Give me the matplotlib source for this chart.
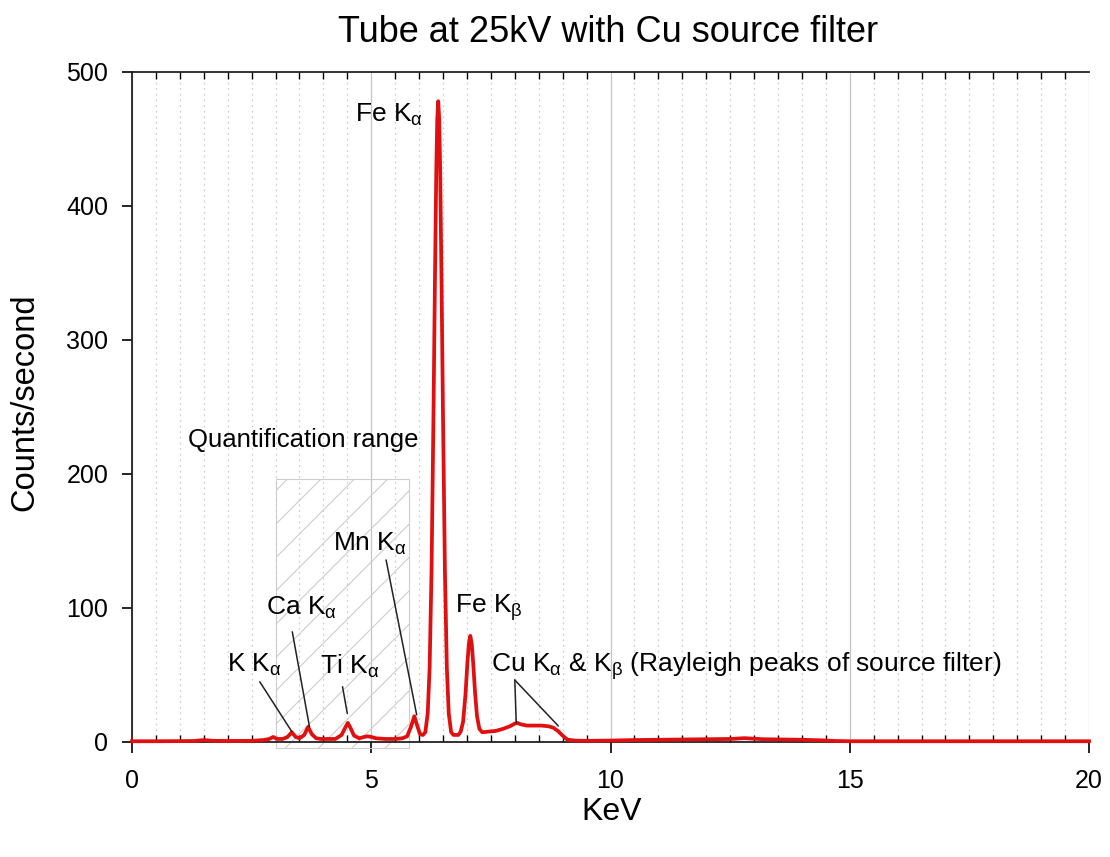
import matplotlib
matplotlib.use("Agg")
import matplotlib.pyplot as plt
from matplotlib.patches import Rectangle
from matplotlib.ticker import MultipleLocator

plt.rcParams['font.family'] = ['Liberation Sans', 'DejaVu Sans']
plt.rcParams['mathtext.fontset'] = 'custom'
plt.rcParams['mathtext.rm'] = 'Liberation Sans'
plt.rcParams['mathtext.it'] = 'Liberation Sans'
plt.rcParams['mathtext.default'] = 'regular'
plt.rcParams['hatch.linewidth'] = 0.8

# XRF spectrum: energy (keV) and count rate (counts/second)
energy_kev = [
    0.0, 0.5, 1.0, 1.3, 1.5, 1.7, 2.0, 2.5, 2.75,
    2.87, 2.95, 3.03, 3.15, 3.25, 3.34, 3.42, 3.5,
    3.6, 3.68, 3.76, 3.85, 3.95, 4.1, 4.25,
    4.38, 4.45, 4.51, 4.57, 4.64, 4.75, 4.85, 4.92, 5.0, 5.1, 5.3, 5.5, 5.65,
    5.75, 5.83, 5.9, 5.96, 6.02, 6.08,
    6.13, 6.18, 6.22, 6.26, 6.30, 6.33, 6.36, 6.38, 6.40,
    6.42, 6.44, 6.47, 6.50, 6.54, 6.58, 6.62, 6.67, 6.72, 6.77,
    6.82, 6.87, 6.92, 6.97, 7.01, 7.04, 7.07, 7.10, 7.13, 7.17, 7.21, 7.26, 7.32,
    7.45, 7.6, 7.75, 7.9, 8.0, 8.05, 8.12, 8.25, 8.4, 8.55, 8.7, 8.8, 8.9, 9.0, 9.1,
    9.25, 9.5, 10.0, 10.5, 11.0, 11.5, 12.0, 12.5, 12.8, 12.95, 13.2, 13.6, 14.0,
    14.4, 14.7, 15.0, 16.0, 18.0, 20.0,
]
counts_per_s = [
    0.3, 0.3, 0.4, 0.5, 1.2, 0.6, 0.5, 0.6, 1.2,
    2.0, 3.5, 2.0, 2.0, 3.5, 7.0, 3.5, 2.5,
    5.0, 11.0, 5.5, 2.5, 2.0, 2.0, 2.0,
    5.0, 10.0, 14.0, 10.0, 4.5, 2.5, 3.5, 4.0, 3.5, 2.5, 2.0, 2.0, 2.5,
    4.0, 11.0, 19.0, 12.0, 5.5, 5.0,
    7.0, 21.0, 55.0, 127.0, 242.0, 340.0, 428.0, 465.0, 478.0,
    465.0, 428.0, 340.0, 242.0, 127.0, 55.0, 21.0, 7.0, 5.0, 5.0,
    5.0, 7.5, 15.0, 35.5, 59.0, 73.0, 79.0, 73.0, 59.0, 36.5, 19.0, 9.5, 7.0,
    7.5, 8.0, 9.5, 11.5, 13.5, 14.0, 13.0, 12.0, 12.0, 12.0, 11.5, 10.5, 8.0, 4.5, 1.5,
    0.8, 0.6, 0.8, 1.2, 1.4, 1.6, 1.8, 2.0, 2.6, 2.3, 1.8, 1.6, 1.4,
    1.0, 0.5, 0.3, 0.3, 0.3, 0.3,
]

title = "Tube at 25kV with Cu source filter"
x_label = "KeV"
y_label = "Counts/second"
x_ticks = [0, 5, 10, 15, 20]
y_ticks = [0, 100, 200, 300, 400, 500]

# Quantification window (keV) and its drawn height
quant_range = (3.0, 5.78)
quant_height = 196

fig = plt.figure(figsize=(11.1, 8.57), dpi=100)
ax = fig.add_axes([0.1189, 0.1346, 0.8622, 0.7817])

ax.set_xlim(0, 20)
ax.set_ylim(0, 500)
ax.set_xticks(x_ticks)
ax.set_yticks(y_ticks)
ax.xaxis.set_minor_locator(MultipleLocator(0.5))

ax.grid(True, axis='x', which='major', color='#c4c4c4', lw=0.9, ls='-')
ax.grid(True, axis='x', which='minor', color='#cfcfcf', lw=0.9, ls=(0, (1.5, 3)))
ax.set_axisbelow(True)

ax.spines['right'].set_visible(False)
for s in ['left', 'bottom', 'top']:
    ax.spines[s].set_linewidth(1.3)
    ax.spines[s].set_color('#222222')

ax.tick_params(axis='x', which='major', direction='out', length=8, width=1.2,
               top=False, bottom=True, labelsize=18, pad=12)
ax.tick_params(axis='x', which='minor', direction='in', length=5, width=1.0,
               top=True, bottom=True)
ax.tick_params(axis='y', which='major', direction='out', length=7, width=1.2,
               labelsize=18, pad=10)

# Hatched quantification window
rect = Rectangle((quant_range[0], -5), quant_range[1] - quant_range[0], quant_height + 5,
                 facecolor='none', edgecolor='#cdcdcd', hatch='/', lw=0.8,
                 clip_on=False, zorder=1)
ax.add_patch(rect)
ax.text(1.17, 220, "Quantification range", fontsize=18.5, va='baseline', ha='left')

ax.plot(energy_kev, counts_per_s, color='#e01010', lw=2.7, zorder=3,
        solid_joinstyle='round', clip_on=False)

# Peak labels
fs = 19
ax.text(4.66, 463, r"Fe K$_{\alpha}$", fontsize=fs, va='baseline')
ax.text(2.81, 95, r"Ca K$_{\alpha}$", fontsize=fs, va='baseline')
ax.text(1.98, 52, r"K K$_{\alpha}$", fontsize=fs, va='baseline')
ax.text(3.93, 51, r"Ti K$_{\alpha}$", fontsize=fs, va='baseline')
ax.text(4.21, 142.5, r"Mn K$_{\alpha}$", fontsize=fs, va='baseline')
ax.text(6.75, 96, r"Fe K$_{\beta}$", fontsize=fs, va='baseline')
ax.text(7.51, 52, r"Cu K$_{\alpha}$ & K$_{\beta}$ (Rayleigh peaks of source filter)",
        fontsize=fs, va='baseline')

# Leader lines
leaders = [
    ((2.67, 44.7), (3.34, 7.5)),
    ((3.35, 82), (3.71, 11)),
    ((4.40, 41), (4.50, 21)),
    ((5.31, 135.6), (5.95, 20)),
    ((8.00, 46), (8.03, 14)),
    ((8.00, 46), (8.91, 11.7)),
]
for (x0, y0), (x1, y1) in leaders:
    ax.annotate('', xy=(x1, y1), xytext=(x0, y0),
                arrowprops=dict(arrowstyle='-', color='#222222', lw=1.1,
                                shrinkA=0, shrinkB=0), zorder=4)

fig.text(0.548, 0.951, title, fontsize=26, ha='center', va='baseline')
fig.text(0.0225, 0.531, y_label, fontsize=23.5, rotation=90, ha='center', va='center')
fig.text(0.551, 0.052, x_label, fontsize=23, ha='center', va='center')

fig.savefig("out.png", dpi=100)
